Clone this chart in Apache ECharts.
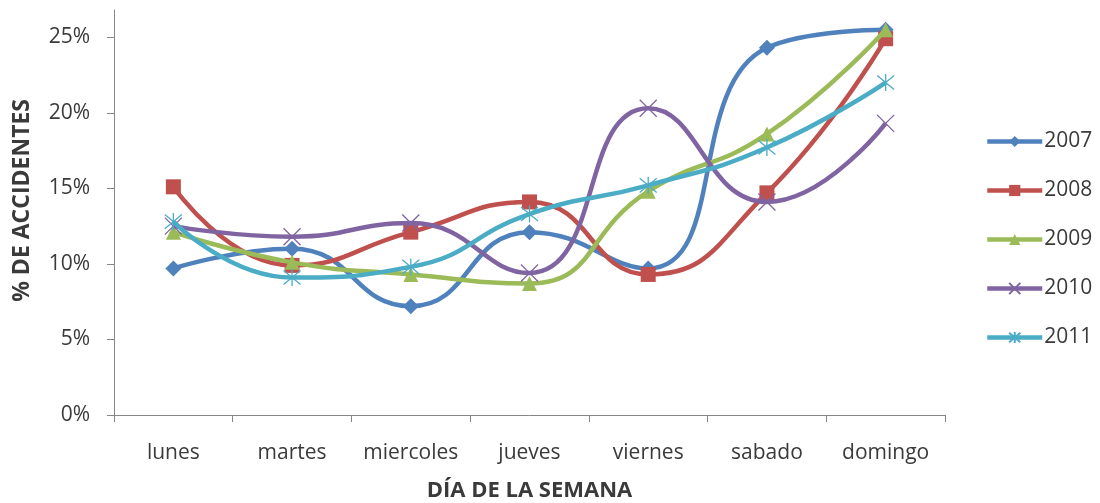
<!DOCTYPE html>
<html>
<head>
<meta charset="utf-8">
<script src="https://cdn.jsdelivr.net/npm/echarts@6/dist/echarts.min.js"></script>
<style>
  html, body { margin: 0; padding: 0; background: #fff; }
  #chart { width: 1100px; height: 503px; }
</style>
</head>
<body>
<div id="chart"></div>
<script>
// Days of the week on the category axis
const days = ['lunes', 'martes', 'miercoles', 'jueves', 'viernes', 'sabado', 'domingo'];

// Share of accidents per weekday (fraction of the year's total)
const y2007 = [0.097, 0.110, 0.072, 0.121, 0.097, 0.243, 0.255];
const y2008 = [0.151, 0.099, 0.121, 0.141, 0.093, 0.147, 0.249];
const y2009 = [0.121, 0.101, 0.093, 0.087, 0.148, 0.186, 0.255];
const y2010 = [0.125, 0.118, 0.127, 0.094, 0.203, 0.141, 0.193];
const y2011 = [0.128, 0.091, 0.098, 0.133, 0.152, 0.177, 0.220];

const years = ['2007', '2008', '2009', '2010', '2011'];
const yTicks = [0, 0.05, 0.10, 0.15, 0.20, 0.25];

const FONT = '"Open Sans", Lato, sans-serif';
const TEXT = '#3a3a3a';
const colors = ['#4F81BD', '#C0504D', '#9BBB59', '#8064A2', '#4BACC6'];

// Stroke-only marker shapes
const crossPath = 'path://M0,0L10,10M10,0L0,10';
const starPath = 'path://M0,0L10,10M10,0L0,10M5,-1L5,11';

function makeSeries(name, data, idx, symbol, size, hollow) {
  const c = colors[idx];
  return {
    name: name,
    type: 'line',
    data: data,
    smooth: 0.5,
    symbol: symbol,
    symbolSize: size,
    showAllSymbol: true,
    lineStyle: { color: c, width: 4.5 },
    itemStyle: hollow
      ? { color: 'rgba(0,0,0,0)', borderColor: c, borderWidth: 1.3 }
      : { color: c, borderColor: c, borderWidth: 0 },
    emphasis: { disabled: true },
    z: 2 + idx
  };
}

const chart = echarts.init(document.getElementById('chart'), null, { renderer: 'canvas' });

chart.setOption({
  animation: false,
  backgroundColor: '#ffffff',
  color: colors,
  textStyle: { fontFamily: FONT },
  grid: {
    left: 114, right: 155, top: 10, bottom: 88,
    containLabel: false,
    outerBoundsMode: 'none'
  },
  legend: {
    orient: 'vertical',
    left: 980,
    top: 126,
    itemWidth: 55,
    itemHeight: 14,
    itemGap: 28,
    data: years,
    lineStyle: { width: 4.5 },
    textStyle: { fontFamily: FONT, fontSize: 21, color: TEXT, padding: [0, 0, 0, -3] }
  },
  xAxis: {
    type: 'category',
    data: days,
    boundaryGap: true,
    axisLine: { show: true, lineStyle: { color: '#868686', width: 1 } },
    axisTick: { show: true, length: 7, inside: false, interval: 0, alignWithLabel: false, lineStyle: { color: '#868686' } },
    axisLabel: { fontFamily: FONT, fontSize: 21, color: TEXT, margin: 28, interval: 0, hideOverlap: false },
    splitLine: { show: false },
    name: 'DÍA DE LA SEMANA',
    nameLocation: 'middle',
    nameGap: 65,
    nameTextStyle: { fontFamily: FONT, fontSize: 22, fontWeight: 'bold', color: TEXT }
  },
  yAxis: {
    type: 'value',
    min: 0,
    max: 0.268,
    interval: 0.05,
    axisLine: { show: true, lineStyle: { color: '#868686', width: 1 } },
    axisTick: { show: true, length: 7, inside: false, customValues: yTicks, lineStyle: { color: '#868686' } },
    axisLabel: {
      fontFamily: FONT, fontSize: 21, color: TEXT, margin: 24,
      customValues: yTicks,
      formatter: v => Math.round(v * 100) + '%'
    },
    splitLine: { show: false }
  },
  graphic: [{
    type: 'text',
    left: 11,
    top: 99,
    rotation: Math.PI / 2,
    style: {
      text: '% DE ACCIDENTES',
      fontFamily: FONT,
      fontSize: 23,
      fontWeight: 'bold',
      fill: TEXT
    }
  }],
  series: [
    makeSeries('2007', y2007, 0, 'diamond', 16, false),
    makeSeries('2008', y2008, 1, 'rect', 15, false),
    makeSeries('2009', y2009, 2, 'triangle', 15, false),
    makeSeries('2010', y2010, 3, crossPath, 17, true),
    makeSeries('2011', y2011, 4, starPath, 17, true)
  ]
});
</script>
</body>
</html>
